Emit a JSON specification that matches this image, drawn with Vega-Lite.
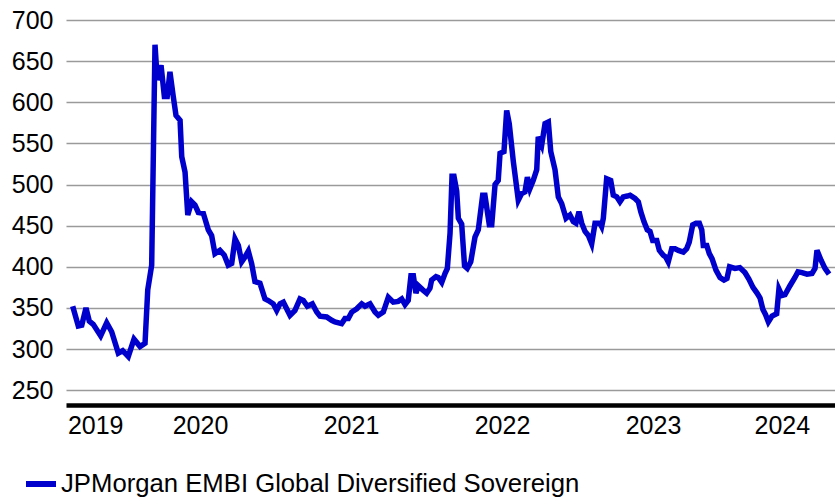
{
  "$schema": "https://vega.github.io/schema/vega-lite/v6.json",
  "width": 769,
  "height": 385,
  "autosize": {"type": "none"},
  "padding": {"left": 66, "top": 20, "right": 0, "bottom": 92},
  "background": "white",
  "config": {
    "view": {"stroke": null},
    "font": "Liberation Sans"
  },
  "data": {
    "values": [
      {"t": 2019.657, "v": 352}, {"t": 2019.694, "v": 328}, {"t": 2019.717, "v": 329}, {"t": 2019.745, "v": 350},
      {"t": 2019.767, "v": 334}, {"t": 2019.793, "v": 330}, {"t": 2019.842, "v": 316}, {"t": 2019.882, "v": 332},
      {"t": 2019.915, "v": 321}, {"t": 2019.959, "v": 295}, {"t": 2019.988, "v": 298}, {"t": 2020.025, "v": 291},
      {"t": 2020.063, "v": 312}, {"t": 2020.103, "v": 303}, {"t": 2020.136, "v": 307}, {"t": 2020.154, "v": 372},
      {"t": 2020.180, "v": 402}, {"t": 2020.202, "v": 670}, {"t": 2020.217, "v": 627}, {"t": 2020.242, "v": 645},
      {"t": 2020.264, "v": 607}, {"t": 2020.283, "v": 607}, {"t": 2020.301, "v": 637}, {"t": 2020.323, "v": 607},
      {"t": 2020.341, "v": 584}, {"t": 2020.368, "v": 578}, {"t": 2020.379, "v": 534}, {"t": 2020.401, "v": 515},
      {"t": 2020.419, "v": 463}, {"t": 2020.445, "v": 479}, {"t": 2020.467, "v": 475}, {"t": 2020.489, "v": 466},
      {"t": 2020.522, "v": 465}, {"t": 2020.555, "v": 445}, {"t": 2020.577, "v": 438}, {"t": 2020.599, "v": 416},
      {"t": 2020.632, "v": 420}, {"t": 2020.661, "v": 414}, {"t": 2020.687, "v": 402}, {"t": 2020.710, "v": 404},
      {"t": 2020.732, "v": 434}, {"t": 2020.754, "v": 426}, {"t": 2020.776, "v": 406}, {"t": 2020.798, "v": 412},
      {"t": 2020.820, "v": 419}, {"t": 2020.842, "v": 404}, {"t": 2020.864, "v": 382}, {"t": 2020.897, "v": 380},
      {"t": 2020.930, "v": 361}, {"t": 2020.952, "v": 359}, {"t": 2020.985, "v": 355}, {"t": 2021.008, "v": 347},
      {"t": 2021.030, "v": 355}, {"t": 2021.052, "v": 357}, {"t": 2021.074, "v": 349}, {"t": 2021.096, "v": 341},
      {"t": 2021.129, "v": 347}, {"t": 2021.162, "v": 361}, {"t": 2021.184, "v": 359}, {"t": 2021.211, "v": 352},
      {"t": 2021.244, "v": 355}, {"t": 2021.273, "v": 345}, {"t": 2021.295, "v": 340}, {"t": 2021.339, "v": 339},
      {"t": 2021.372, "v": 335}, {"t": 2021.394, "v": 333}, {"t": 2021.438, "v": 331}, {"t": 2021.460, "v": 337},
      {"t": 2021.482, "v": 337}, {"t": 2021.505, "v": 345}, {"t": 2021.538, "v": 349}, {"t": 2021.571, "v": 355},
      {"t": 2021.593, "v": 352}, {"t": 2021.626, "v": 355}, {"t": 2021.659, "v": 345}, {"t": 2021.681, "v": 341},
      {"t": 2021.714, "v": 345}, {"t": 2021.747, "v": 363}, {"t": 2021.780, "v": 357}, {"t": 2021.813, "v": 358},
      {"t": 2021.836, "v": 361}, {"t": 2021.858, "v": 354}, {"t": 2021.879, "v": 359}, {"t": 2021.897, "v": 389},
      {"t": 2021.913, "v": 389}, {"t": 2021.930, "v": 368}, {"t": 2021.946, "v": 377}, {"t": 2021.975, "v": 372},
      {"t": 2022.001, "v": 368}, {"t": 2022.023, "v": 374}, {"t": 2022.034, "v": 384}, {"t": 2022.063, "v": 388},
      {"t": 2022.078, "v": 387}, {"t": 2022.101, "v": 381}, {"t": 2022.123, "v": 392}, {"t": 2022.138, "v": 398},
      {"t": 2022.156, "v": 441}, {"t": 2022.169, "v": 510}, {"t": 2022.182, "v": 510}, {"t": 2022.200, "v": 492},
      {"t": 2022.211, "v": 459}, {"t": 2022.233, "v": 452}, {"t": 2022.252, "v": 401}, {"t": 2022.270, "v": 398},
      {"t": 2022.293, "v": 406}, {"t": 2022.321, "v": 436}, {"t": 2022.343, "v": 445}, {"t": 2022.372, "v": 487},
      {"t": 2022.387, "v": 487}, {"t": 2022.416, "v": 451}, {"t": 2022.432, "v": 451}, {"t": 2022.454, "v": 500},
      {"t": 2022.475, "v": 505}, {"t": 2022.487, "v": 538}, {"t": 2022.513, "v": 540}, {"t": 2022.531, "v": 590},
      {"t": 2022.548, "v": 574}, {"t": 2022.575, "v": 528}, {"t": 2022.608, "v": 481}, {"t": 2022.630, "v": 489},
      {"t": 2022.652, "v": 491}, {"t": 2022.668, "v": 509}, {"t": 2022.685, "v": 495}, {"t": 2022.707, "v": 505},
      {"t": 2022.730, "v": 518}, {"t": 2022.740, "v": 558}, {"t": 2022.763, "v": 548}, {"t": 2022.785, "v": 574},
      {"t": 2022.807, "v": 576}, {"t": 2022.823, "v": 540}, {"t": 2022.851, "v": 518}, {"t": 2022.873, "v": 485},
      {"t": 2022.895, "v": 477}, {"t": 2022.924, "v": 459}, {"t": 2022.950, "v": 463}, {"t": 2022.972, "v": 455},
      {"t": 2022.990, "v": 453}, {"t": 2023.010, "v": 467}, {"t": 2023.028, "v": 453}, {"t": 2023.050, "v": 443},
      {"t": 2023.072, "v": 438}, {"t": 2023.094, "v": 428}, {"t": 2023.116, "v": 453}, {"t": 2023.149, "v": 453},
      {"t": 2023.160, "v": 449}, {"t": 2023.171, "v": 459}, {"t": 2023.193, "v": 507}, {"t": 2023.220, "v": 505},
      {"t": 2023.237, "v": 487}, {"t": 2023.260, "v": 485}, {"t": 2023.281, "v": 479}, {"t": 2023.303, "v": 485},
      {"t": 2023.330, "v": 486}, {"t": 2023.348, "v": 487}, {"t": 2023.381, "v": 483}, {"t": 2023.403, "v": 479},
      {"t": 2023.419, "v": 467}, {"t": 2023.440, "v": 455}, {"t": 2023.462, "v": 445}, {"t": 2023.480, "v": 443},
      {"t": 2023.498, "v": 432}, {"t": 2023.525, "v": 432}, {"t": 2023.542, "v": 420}, {"t": 2023.568, "v": 414},
      {"t": 2023.584, "v": 412}, {"t": 2023.601, "v": 406}, {"t": 2023.624, "v": 422}, {"t": 2023.646, "v": 422},
      {"t": 2023.668, "v": 420}, {"t": 2023.701, "v": 418}, {"t": 2023.723, "v": 422}, {"t": 2023.740, "v": 430},
      {"t": 2023.763, "v": 451}, {"t": 2023.785, "v": 453}, {"t": 2023.807, "v": 453}, {"t": 2023.823, "v": 445},
      {"t": 2023.833, "v": 426}, {"t": 2023.856, "v": 426}, {"t": 2023.873, "v": 416}, {"t": 2023.891, "v": 410},
      {"t": 2023.917, "v": 396}, {"t": 2023.944, "v": 387}, {"t": 2023.970, "v": 384}, {"t": 2023.990, "v": 386},
      {"t": 2024.007, "v": 400}, {"t": 2024.043, "v": 398}, {"t": 2024.075, "v": 399}, {"t": 2024.109, "v": 393},
      {"t": 2024.135, "v": 385}, {"t": 2024.162, "v": 375}, {"t": 2024.189, "v": 368}, {"t": 2024.209, "v": 362},
      {"t": 2024.228, "v": 348}, {"t": 2024.245, "v": 342}, {"t": 2024.264, "v": 333}, {"t": 2024.288, "v": 340},
      {"t": 2024.319, "v": 343}, {"t": 2024.334, "v": 373}, {"t": 2024.354, "v": 365}, {"t": 2024.374, "v": 366},
      {"t": 2024.407, "v": 377}, {"t": 2024.440, "v": 387}, {"t": 2024.460, "v": 394}, {"t": 2024.487, "v": 393},
      {"t": 2024.520, "v": 391}, {"t": 2024.553, "v": 392}, {"t": 2024.573, "v": 398}, {"t": 2024.586, "v": 420},
      {"t": 2024.613, "v": 408}, {"t": 2024.639, "v": 398}, {"t": 2024.666, "v": 391}
    ]
  },
  "mark": {"type": "line", "strokeWidth": 5.5, "strokeJoin": "miter"},
  "encoding": {
    "x": {
      "field": "t",
      "type": "quantitative",
      "scale": {"domain": [2019.6126, 2024.7053], "nice": false, "zero": false},
      "axis": {
        "title": null,
        "grid": false,
        "ticks": false,
        "domainColor": "black",
        "domainWidth": 4.5,
        "values": [2019.806, 2020.5, 2021.5, 2022.5, 2023.5, 2024.353],
        "labelExpr": "'' + floor(datum.value)",
        "labelFontSize": 25,
        "labelColor": "black",
        "labelPadding": 8,
        "labelFlush": false,
        "labelOverlap": false,
        "labelBound": false
      }
    },
    "y": {
      "field": "v",
      "type": "quantitative",
      "scale": {"domain": [232, 700], "nice": false, "zero": false},
      "axis": {
        "title": null,
        "domain": false,
        "ticks": false,
        "values": [250, 300, 350, 400, 450, 500, 550, 600, 650, 700],
        "grid": true,
        "gridColor": "#9a9a9a",
        "gridWidth": 1.5,
        "labelFontSize": 25,
        "labelColor": "black",
        "labelPadding": 13,
        "labelFlush": false,
        "labelOverlap": false,
        "labelBound": false
      }
    },
    "color": {
      "datum": "JPMorgan EMBI Global Diversified Sovereign",
      "scale": {"range": ["#0000cd"]},
      "legend": {
        "title": null,
        "orient": "none",
        "legendX": -43,
        "legendY": 446,
        "symbolType": "stroke",
        "symbolSize": 900,
        "symbolStrokeWidth": 6,
        "labelFontSize": 25.7,
        "labelColor": "black",
        "labelOffset": 2,
        "labelLimit": 760
      }
    }
  }
}
